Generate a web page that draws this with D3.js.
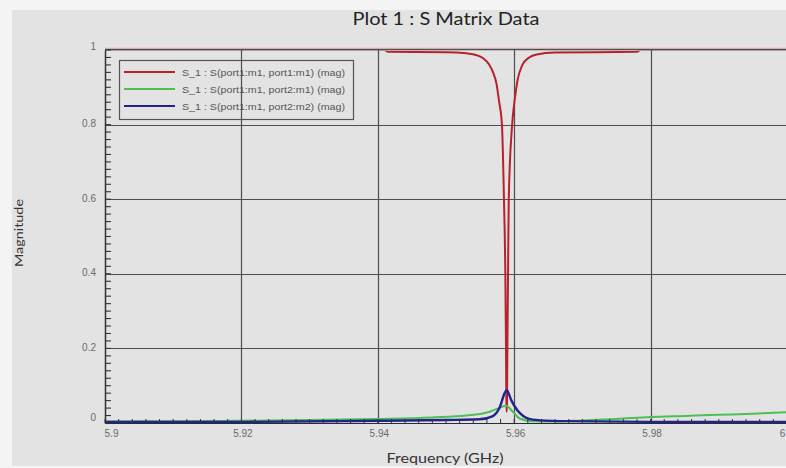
<!DOCTYPE html>
<html>
<head>
<meta charset="utf-8">
<script src="https://cdn.jsdelivr.net/npm/d3@7"></script>
<style>
  html, body { margin: 0; padding: 0; background: #fafafa; }
  svg { display: block; }
</style>
</head>
<body>
<svg id="chart" width="786" height="468"></svg>
<script>
// Frequency sweep (GHz) and magnitude of each S-parameter trace
const s11Freq = [5.900, 5.9410, 5.9415, 5.950, 5.953, 5.9545, 5.9555, 5.9563, 5.9569, 5.9574, 5.9578, 5.9582, 5.9585, 5.9587, 5.9588, 5.95885, 5.9589, 5.95895, 5.9590, 5.9591, 5.9592, 5.9597, 5.9601, 5.9605, 5.9612, 5.9622, 5.9633, 5.966, 5.9780, 5.9785, 6.000];
const s11Mag  = [1.000, 1.000, 0.995, 0.994, 0.991, 0.986, 0.977, 0.962, 0.940, 0.910, 0.860, 0.800, 0.600, 0.400, 0.200, 0.060, 0.030, 0.060, 0.200, 0.400, 0.600, 0.800, 0.870, 0.920, 0.960, 0.980, 0.988, 0.993, 0.995, 1.000, 1.000];

const s21Freq = [5.900, 5.910, 5.920, 5.930, 5.940, 5.948, 5.953, 5.956, 5.9575, 5.9588, 5.9598, 5.9608, 5.9625, 5.966, 5.970, 5.975, 5.980, 5.985, 5.990, 5.995, 6.000];
const s21Mag  = [0.004, 0.005, 0.006, 0.008, 0.011, 0.015, 0.020, 0.028, 0.038, 0.046, 0.030, 0.012, 0.005, 0.004, 0.007, 0.011, 0.016, 0.019, 0.022, 0.025, 0.029];

const s22Freq = [5.900, 5.920, 5.940, 5.950, 5.9549, 5.9568, 5.9579, 5.9586, 5.9589, 5.9596, 5.9608, 5.9627, 5.9667, 5.980, 6.000];
const s22Mag  = [0.003, 0.003, 0.006, 0.008, 0.010, 0.018, 0.043, 0.080, 0.088, 0.060, 0.027, 0.009, 0.005, 0.003, 0.003];

const seriesNames  = ["S_1 : S(port1:m1, port1:m1) (mag)", "S_1 : S(port1:m1, port2:m1) (mag)", "S_1 : S(port1:m1, port2:m2) (mag)"];
const seriesColors = ["#b8202c", "#4cc055", "#23238c"];

const xTicks = [5.90, 5.92, 5.94, 5.96, 5.98, 6.00];
const xTickLabels = ["5.9", "5.92", "5.94", "5.96", "5.98", "6"];
const yTicks = [0, 0.2, 0.4, 0.6, 0.8, 1];
const yTickLabels = ["0", "0.2", "0.4", "0.6", "0.8", "1"];

const titleText = "Plot 1 : S Matrix Data";
const xTitle = "Frequency (GHz)";
const yTitle = "Magnitude";

// ---- layout ----
const W = 786, H = 468;
const plot = { left: 105, right: 787, top: 50, bottom: 423 };

const svg = d3.select("#chart");

// panel backgrounds
svg.append("rect").attr("x", 0).attr("y", 0).attr("width", W).attr("height", H).attr("fill", "#f4f4f4");
svg.append("rect").attr("x", 12).attr("y", 10).attr("width", W - 12).attr("height", H - 12).attr("fill", "#e3e3e3");

const x = d3.scaleLinear().domain([5.9, 6.0]).range([plot.left, plot.right]);
const y = d3.scaleLinear().domain([0, 1]).range([plot.bottom, plot.top]);

const gridColor = "#4e4e4e";

// grid lines
svg.append("g").selectAll("line.vg")
  .data(xTicks.slice(1, -1)).join("line")
  .attr("x1", d => Math.round(x(d)) + 0.5).attr("x2", d => Math.round(x(d)) + 0.5)
  .attr("y1", plot.top).attr("y2", plot.bottom)
  .attr("stroke", gridColor).attr("stroke-width", 1.2);
svg.append("g").selectAll("line.hg")
  .data(yTicks.slice(1, -1)).join("line")
  .attr("x1", plot.left).attr("x2", plot.right)
  .attr("y1", d => Math.round(y(d)) + 0.5).attr("y2", d => Math.round(y(d)) + 0.5)
  .attr("stroke", gridColor).attr("stroke-width", 1.2);

// a faint glow of the reflection trace where it sits on the top border
svg.append("line")
  .attr("x1", plot.left).attr("x2", plot.right)
  .attr("y1", plot.top - 2).attr("y2", plot.top - 2)
  .attr("stroke", "#f0d4d4").attr("stroke-width", 2);

// traces
svg.append("clipPath").attr("id", "plotClip")
  .append("rect").attr("x", plot.left).attr("y", plot.top + 0.8)
  .attr("width", plot.right - plot.left).attr("height", plot.bottom - plot.top);

const line = d3.line().x(d => x(d[0])).y(d => y(d[1])).curve(d3.curveMonotoneX);
const traces = [
  { f: s11Freq, m: s11Mag, w: 2 },
  { f: s21Freq, m: s21Mag, w: 2 },
  { f: s22Freq, m: s22Mag, w: 2.4 }
];
const gTr = svg.append("g").attr("clip-path", "url(#plotClip)");
traces.forEach((t, i) => {
  gTr.append("path")
    .datum(t.f.map((f, k) => [f, t.m[k]]))
    .attr("d", line)
    .attr("fill", "none")
    .attr("stroke", seriesColors[i])
    .attr("stroke-width", t.w)
    .attr("stroke-linejoin", "round");
});

// top border at full scale
svg.append("line")
  .attr("x1", plot.left).attr("x2", plot.right)
  .attr("y1", plot.top - 0.5).attr("y2", plot.top - 0.5)
  .attr("stroke", gridColor).attr("stroke-width", 1.3);

// axes
const xAxis = d3.axisBottom(x)
  .tickValues(xTicks)
  .tickFormat((d, i) => xTickLabels[i])
  .tickSize(0).tickPadding(7);
const gx = svg.append("g").attr("transform", `translate(0,${plot.bottom})`).call(xAxis);
gx.select(".domain").attr("stroke", "#2a2a3a").attr("stroke-width", 1.2);
gx.selectAll("text")
  .attr("font-family", "'Liberation Sans', Arial, sans-serif")
  .attr("font-size", 10).attr("fill", "#6a6a6a")
  .attr("dx", (d, i) => i === 0 ? 6 : (i === xTicks.length - 1 ? -5 : 1));

// minor ticks on x axis
const xMinor = d3.range(0, 51).map(i => 5.9 + i * 0.002);
svg.append("g").selectAll("line")
  .data(xMinor).join("line")
  .attr("x1", d => x(d)).attr("x2", d => x(d))
  .attr("y1", plot.bottom).attr("y2", plot.bottom - 4)
  .attr("stroke", "#333").attr("stroke-width", 1);

const yAxis = d3.axisLeft(y)
  .tickValues(yTicks)
  .tickFormat((d, i) => yTickLabels[i])
  .tickSize(0).tickPadding(9);
const gy = svg.append("g").attr("transform", `translate(${plot.left},0)`).call(yAxis);
gy.select(".domain").attr("stroke", "#333").attr("stroke-width", 1.5);
gy.selectAll("text")
  .attr("font-family", "'Liberation Sans', Arial, sans-serif")
  .attr("font-size", 10).attr("fill", "#6a6a6a")
  .attr("dy", (d, i) => i === 0 ? "-0.3em" : (i === yTicks.length - 1 ? "-0.1em" : "0.2em"));

// minor ticks on y axis
const yMinor = d3.range(0, 51).map(i => i * 0.02);
svg.append("g").selectAll("line")
  .data(yMinor).join("line")
  .attr("x1", plot.left).attr("x2", plot.left + 6)
  .attr("y1", d => y(d)).attr("y2", d => y(d))
  .attr("stroke", "#333").attr("stroke-width", 1.1);

// legend
const leg = svg.append("g").attr("transform", "translate(119,60)");
leg.append("rect").attr("x", 0.5).attr("y", 0.5).attr("width", 234).attr("height", 59)
  .attr("fill", "none").attr("stroke", "#555").attr("stroke-width", 1.2);
seriesNames.forEach((name, i) => {
  const ly = 12 + i * 17;
  leg.append("line").attr("x1", 5).attr("x2", 56).attr("y1", ly).attr("y2", ly)
    .attr("stroke", seriesColors[i]).attr("stroke-width", 2);
  leg.append("text").attr("x", 63).attr("y", ly + 3.5)
    .attr("font-family", "'Liberation Sans', Arial, sans-serif")
    .attr("font-size", 9).attr("fill", "#555")
    .attr("textLength", 163).attr("lengthAdjust", "spacingAndGlyphs")
    .text(name);
});

// titles
svg.append("text").attr("x", 446).attr("y", 25).attr("text-anchor", "middle")
  .attr("font-family", "Lato, 'Open Sans', sans-serif").attr("font-size", 17)
  .attr("fill", "#222")
  .attr("textLength", 187).attr("lengthAdjust", "spacingAndGlyphs")
  .text(titleText);
svg.append("text").attr("x", 445).attr("y", 463).attr("text-anchor", "middle")
  .attr("font-family", "Lato, 'Open Sans', sans-serif").attr("font-size", 14)
  .attr("fill", "#333")
  .attr("textLength", 117).attr("lengthAdjust", "spacingAndGlyphs")
  .text(xTitle);
svg.append("text")
  .attr("transform", "translate(23,233) rotate(-90)")
  .attr("text-anchor", "middle")
  .attr("font-family", "Lato, 'Open Sans', sans-serif").attr("font-size", 12)
  .attr("fill", "#333")
  .attr("textLength", 68).attr("lengthAdjust", "spacingAndGlyphs")
  .text(yTitle);
</script>
</body>
</html>
